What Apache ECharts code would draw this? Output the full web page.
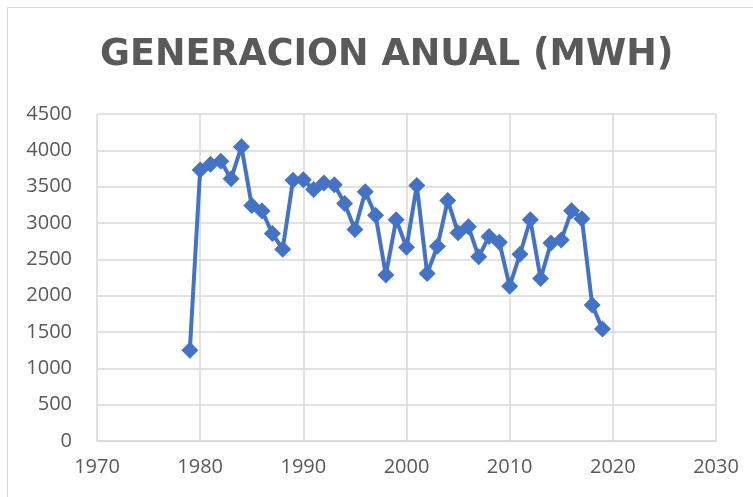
<!DOCTYPE html>
<html>
<head>
<meta charset="utf-8">
<script src="https://cdn.jsdelivr.net/npm/echarts@6/dist/echarts.min.js"></script>
<style>
  html, body { margin: 0; padding: 0; background: #fff; }
  #main { width: 753px; height: 497px; }
</style>
</head>
<body>
<div id="main"></div>
<script>
// datos
var years = [1979, 1980, 1981, 1982, 1983, 1984, 1985, 1986, 1987, 1988, 1989,
  1990, 1991, 1992, 1993, 1994, 1995, 1996, 1997, 1998, 1999,
  2000, 2001, 2002, 2003, 2004, 2005, 2006, 2007, 2008, 2009,
  2010, 2011, 2012, 2013, 2014, 2015, 2016, 2017, 2018, 2019];
var generacion = [1250, 3730, 3810, 3850, 3610, 4050, 3240, 3165, 2855, 2640, 3590,
  3595, 3460, 3550, 3525, 3270, 2910, 3430, 3105, 2285, 3045,
  2665, 3515, 2305, 2680, 3310, 2865, 2950, 2535, 2815, 2735,
  2130, 2570, 3045, 2235, 2725, 2765, 3170, 3060, 1870, 1540];
var titulo = 'GENERACION ANUAL (MWH)';

var chart = echarts.init(document.getElementById('main'));
var labelStyle = { color: '#595959', fontSize: 20, fontFamily: 'Open Sans' };

chart.setOption({
  animation: false,
  backgroundColor: '#fff',
  graphic: [{
    type: 'rect',
    shape: { x: 7.5, y: 7.5, width: 760, height: 500 },
    style: { fill: 'none', stroke: '#d9d9d9', lineWidth: 1 }
  }],
  title: {
    text: titulo,
    left: 95,
    top: 32,
    textStyle: { color: '#595959', fontSize: 36.5, fontWeight: 'bold', fontFamily: 'DejaVu Sans' }
  },
  grid: { left: 97, right: 37, top: 114, bottom: 56 },
  xAxis: {
    type: 'value',
    min: 1970,
    max: 2030,
    interval: 10,
    axisLine: { show: true, lineStyle: { color: '#d9d9d9', width: 1.5 } },
    axisTick: { show: false },
    axisLabel: Object.assign({ margin: 16, formatter: function (v) { return String(v); } }, labelStyle),
    splitLine: { show: true, lineStyle: { color: '#d9d9d9', width: 1.5 } }
  },
  yAxis: {
    type: 'value',
    min: 0,
    max: 4500,
    interval: 500,
    axisLine: { show: false },
    axisTick: { show: false },
    axisLabel: Object.assign({ margin: 25, formatter: function (v) { return String(v); } }, labelStyle),
    splitLine: { show: true, lineStyle: { color: '#d9d9d9', width: 1.5 } }
  },
  series: [{
    type: 'line',
    data: years.map(function (y, i) { return [y, generacion[i]]; }),
    lineStyle: { color: '#4472C4', width: 4 },
    itemStyle: { color: '#4472C4' },
    symbol: 'diamond',
    symbolSize: [17, 17],
    showAllSymbol: true
  }]
});
</script>
</body>
</html>
